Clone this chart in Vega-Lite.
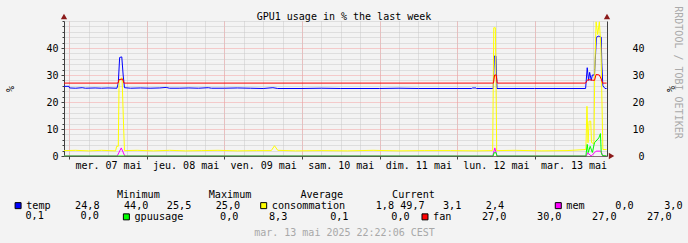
{
  "$schema": "https://vega.github.io/schema/vega-lite/v6.json",
  "width": 543,
  "height": 135,
  "autosize": {"type": "none"},
  "padding": {"left": 64, "top": 21, "right": 81, "bottom": 87},
  "background": "#f3f3f3",
  "config": {
    "view": {"fill": "#ffffff", "stroke": null},
    "font": "DejaVu Sans Mono",
    "axis": {"labelFont": "DejaVu Sans Mono", "labelFontSize": 10, "labelColor": "#000000", "titleFont": "DejaVu Sans Mono", "titleFontSize": 10, "titleFontWeight": "normal", "titleColor": "#000000", "domainColor": "#404040", "tickColor": "#404040"},
    "legend": {"labelFont": "DejaVu Sans Mono", "labelFontSize": 10.17, "labelColor": "#000000", "labelLimit": 1000, "labelOffset": 3, "titleFont": "DejaVu Sans Mono", "titleFontSize": 10.17, "titleFontWeight": "normal", "titleColor": "#000000", "titleLimit": 1000, "symbolType": "square", "symbolSize": 36, "symbolStrokeColor": "#000000", "symbolStrokeWidth": 1, "symbolOpacity": 1, "padding": 0}
  },
  "title": {"text": "GPU1 usage in % the last week", "anchor": "middle", "frame": "group", "font": "DejaVu Sans Mono", "fontSize": 10, "fontWeight": "normal", "color": "#000000", "baseline": "alphabetic", "offset": 2.5, "dx": 8.5, "dy": 26.7},
  "data": {"values": [
    {"t": "2025-05-06T22:22Z", "s": "temp", "v": 25.8},
    {"t": "2025-05-06T23:55Z", "s": "temp", "v": 25.8},
    {"t": "2025-05-07T00:05Z", "s": "temp", "v": 25.2},
    {"t": "2025-05-07T02:00Z", "s": "temp", "v": 25.1},
    {"t": "2025-05-07T04:00Z", "s": "temp", "v": 25.3},
    {"t": "2025-05-07T05:00Z", "s": "temp", "v": 25.1},
    {"t": "2025-05-07T08:00Z", "s": "temp", "v": 25.2},
    {"t": "2025-05-07T10:00Z", "s": "temp", "v": 25.1},
    {"t": "2025-05-07T12:00Z", "s": "temp", "v": 25.2},
    {"t": "2025-05-07T14:45Z", "s": "temp", "v": 25.1},
    {"t": "2025-05-07T15:10Z", "s": "temp", "v": 27.0},
    {"t": "2025-05-07T15:35Z", "s": "temp", "v": 36.5},
    {"t": "2025-05-07T16:15Z", "s": "temp", "v": 36.7},
    {"t": "2025-05-07T16:40Z", "s": "temp", "v": 30.0},
    {"t": "2025-05-07T17:05Z", "s": "temp", "v": 25.3},
    {"t": "2025-05-07T19:00Z", "s": "temp", "v": 25.1},
    {"t": "2025-05-07T22:00Z", "s": "temp", "v": 25.2},
    {"t": "2025-05-08T01:00Z", "s": "temp", "v": 25.1},
    {"t": "2025-05-08T04:00Z", "s": "temp", "v": 25.2},
    {"t": "2025-05-08T06:00Z", "s": "temp", "v": 25.4},
    {"t": "2025-05-08T07:00Z", "s": "temp", "v": 25.1},
    {"t": "2025-05-08T10:00Z", "s": "temp", "v": 25.1},
    {"t": "2025-05-08T13:00Z", "s": "temp", "v": 25.2},
    {"t": "2025-05-08T16:00Z", "s": "temp", "v": 25.1},
    {"t": "2025-05-08T19:00Z", "s": "temp", "v": 25.3},
    {"t": "2025-05-08T20:00Z", "s": "temp", "v": 25.1},
    {"t": "2025-05-09T00:00Z", "s": "temp", "v": 25.1},
    {"t": "2025-05-09T04:00Z", "s": "temp", "v": 25.2},
    {"t": "2025-05-09T08:00Z", "s": "temp", "v": 25.1},
    {"t": "2025-05-09T12:00Z", "s": "temp", "v": 25.0},
    {"t": "2025-05-09T15:00Z", "s": "temp", "v": 25.3},
    {"t": "2025-05-09T16:30Z", "s": "temp", "v": 25.0},
    {"t": "2025-05-10T00:00Z", "s": "temp", "v": 25.0},
    {"t": "2025-05-10T06:00Z", "s": "temp", "v": 25.1},
    {"t": "2025-05-10T12:00Z", "s": "temp", "v": 25.0},
    {"t": "2025-05-11T00:00Z", "s": "temp", "v": 25.0},
    {"t": "2025-05-11T06:00Z", "s": "temp", "v": 25.1},
    {"t": "2025-05-11T12:00Z", "s": "temp", "v": 25.0},
    {"t": "2025-05-12T00:00Z", "s": "temp", "v": 25.0},
    {"t": "2025-05-12T04:30Z", "s": "temp", "v": 25.0},
    {"t": "2025-05-12T04:40Z", "s": "temp", "v": 25.2},
    {"t": "2025-05-12T05:50Z", "s": "temp", "v": 25.2},
    {"t": "2025-05-12T06:00Z", "s": "temp", "v": 25.0},
    {"t": "2025-05-12T11:10Z", "s": "temp", "v": 25.0},
    {"t": "2025-05-12T11:30Z", "s": "temp", "v": 37.0},
    {"t": "2025-05-12T12:00Z", "s": "temp", "v": 37.0},
    {"t": "2025-05-12T12:20Z", "s": "temp", "v": 25.0},
    {"t": "2025-05-13T00:00Z", "s": "temp", "v": 25.0},
    {"t": "2025-05-13T15:45Z", "s": "temp", "v": 25.0},
    {"t": "2025-05-13T16:15Z", "s": "temp", "v": 32.7},
    {"t": "2025-05-13T16:40Z", "s": "temp", "v": 28.0},
    {"t": "2025-05-13T17:00Z", "s": "temp", "v": 31.0},
    {"t": "2025-05-13T17:30Z", "s": "temp", "v": 28.0},
    {"t": "2025-05-13T17:50Z", "s": "temp", "v": 30.0},
    {"t": "2025-05-13T18:30Z", "s": "temp", "v": 30.0},
    {"t": "2025-05-13T18:45Z", "s": "temp", "v": 35.7},
    {"t": "2025-05-13T19:05Z", "s": "temp", "v": 44.0},
    {"t": "2025-05-13T19:50Z", "s": "temp", "v": 44.4},
    {"t": "2025-05-13T20:35Z", "s": "temp", "v": 44.0},
    {"t": "2025-05-13T20:45Z", "s": "temp", "v": 34.5},
    {"t": "2025-05-13T21:05Z", "s": "temp", "v": 26.0},
    {"t": "2025-05-13T21:45Z", "s": "temp", "v": 25.0},
    {"t": "2025-05-13T22:15Z", "s": "temp", "v": 25.0},

    {"t": "2025-05-06T22:22Z", "s": "consommation", "v": 2.0},
    {"t": "2025-05-07T02:00Z", "s": "consommation", "v": 2.1},
    {"t": "2025-05-07T06:00Z", "s": "consommation", "v": 1.9},
    {"t": "2025-05-07T10:00Z", "s": "consommation", "v": 2.1},
    {"t": "2025-05-07T14:20Z", "s": "consommation", "v": 1.9},
    {"t": "2025-05-07T14:40Z", "s": "consommation", "v": 3.6},
    {"t": "2025-05-07T15:10Z", "s": "consommation", "v": 3.6},
    {"t": "2025-05-07T15:25Z", "s": "consommation", "v": 28.0},
    {"t": "2025-05-07T16:20Z", "s": "consommation", "v": 29.0},
    {"t": "2025-05-07T16:50Z", "s": "consommation", "v": 10.0},
    {"t": "2025-05-07T17:05Z", "s": "consommation", "v": 2.0},
    {"t": "2025-05-07T21:00Z", "s": "consommation", "v": 2.1},
    {"t": "2025-05-08T02:00Z", "s": "consommation", "v": 1.9},
    {"t": "2025-05-08T07:00Z", "s": "consommation", "v": 2.1},
    {"t": "2025-05-08T12:00Z", "s": "consommation", "v": 1.9},
    {"t": "2025-05-08T17:00Z", "s": "consommation", "v": 2.0},
    {"t": "2025-05-08T22:00Z", "s": "consommation", "v": 2.1},
    {"t": "2025-05-09T04:00Z", "s": "consommation", "v": 1.9},
    {"t": "2025-05-09T10:00Z", "s": "consommation", "v": 2.0},
    {"t": "2025-05-09T14:30Z", "s": "consommation", "v": 2.0},
    {"t": "2025-05-09T15:30Z", "s": "consommation", "v": 3.8},
    {"t": "2025-05-09T16:30Z", "s": "consommation", "v": 2.1},
    {"t": "2025-05-09T22:00Z", "s": "consommation", "v": 1.9},
    {"t": "2025-05-10T06:00Z", "s": "consommation", "v": 2.0},
    {"t": "2025-05-10T14:00Z", "s": "consommation", "v": 1.9},
    {"t": "2025-05-10T22:00Z", "s": "consommation", "v": 2.1},
    {"t": "2025-05-11T06:00Z", "s": "consommation", "v": 1.9},
    {"t": "2025-05-11T14:00Z", "s": "consommation", "v": 2.0},
    {"t": "2025-05-11T22:00Z", "s": "consommation", "v": 2.0},
    {"t": "2025-05-12T06:00Z", "s": "consommation", "v": 1.9},
    {"t": "2025-05-12T11:00Z", "s": "consommation", "v": 2.0},
    {"t": "2025-05-12T11:20Z", "s": "consommation", "v": 47.5},
    {"t": "2025-05-12T11:50Z", "s": "consommation", "v": 47.5},
    {"t": "2025-05-12T12:15Z", "s": "consommation", "v": 2.0},
    {"t": "2025-05-12T18:00Z", "s": "consommation", "v": 2.1},
    {"t": "2025-05-13T02:00Z", "s": "consommation", "v": 1.9},
    {"t": "2025-05-13T10:00Z", "s": "consommation", "v": 2.0},
    {"t": "2025-05-13T15:50Z", "s": "consommation", "v": 2.4},
    {"t": "2025-05-13T16:10Z", "s": "consommation", "v": 18.4},
    {"t": "2025-05-13T16:30Z", "s": "consommation", "v": 4.9},
    {"t": "2025-05-13T16:50Z", "s": "consommation", "v": 12.9},
    {"t": "2025-05-13T17:20Z", "s": "consommation", "v": 12.9},
    {"t": "2025-05-13T17:35Z", "s": "consommation", "v": 5.0},
    {"t": "2025-05-13T18:20Z", "s": "consommation", "v": 4.5},
    {"t": "2025-05-13T18:35Z", "s": "consommation", "v": 32.0},
    {"t": "2025-05-13T19:00Z", "s": "consommation", "v": 49.7},
    {"t": "2025-05-13T19:30Z", "s": "consommation", "v": 45.0},
    {"t": "2025-05-13T20:00Z", "s": "consommation", "v": 49.7},
    {"t": "2025-05-13T20:30Z", "s": "consommation", "v": 40.0},
    {"t": "2025-05-13T21:05Z", "s": "consommation", "v": 2.4},
    {"t": "2025-05-13T22:15Z", "s": "consommation", "v": 2.4},

    {"t": "2025-05-06T22:22Z", "s": "mem", "v": 0},
    {"t": "2025-05-07T14:50Z", "s": "mem", "v": 0},
    {"t": "2025-05-07T16:05Z", "s": "mem", "v": 3.0},
    {"t": "2025-05-07T17:10Z", "s": "mem", "v": 0},
    {"t": "2025-05-12T11:00Z", "s": "mem", "v": 0},
    {"t": "2025-05-12T11:40Z", "s": "mem", "v": 3.0},
    {"t": "2025-05-12T12:20Z", "s": "mem", "v": 0},
    {"t": "2025-05-13T16:00Z", "s": "mem", "v": 0},
    {"t": "2025-05-13T16:20Z", "s": "mem", "v": 1.2},
    {"t": "2025-05-13T17:30Z", "s": "mem", "v": 0},
    {"t": "2025-05-13T19:00Z", "s": "mem", "v": 1.8},
    {"t": "2025-05-13T20:30Z", "s": "mem", "v": 1.8},
    {"t": "2025-05-13T21:05Z", "s": "mem", "v": 0},
    {"t": "2025-05-13T22:15Z", "s": "mem", "v": 0},

    {"t": "2025-05-06T22:22Z", "s": "gpuusage", "v": 0},
    {"t": "2025-05-12T11:10Z", "s": "gpuusage", "v": 0},
    {"t": "2025-05-12T11:25Z", "s": "gpuusage", "v": 1.2},
    {"t": "2025-05-12T12:05Z", "s": "gpuusage", "v": 1.2},
    {"t": "2025-05-12T12:20Z", "s": "gpuusage", "v": 0},
    {"t": "2025-05-13T15:50Z", "s": "gpuusage", "v": 0},
    {"t": "2025-05-13T16:15Z", "s": "gpuusage", "v": 4.3},
    {"t": "2025-05-13T16:35Z", "s": "gpuusage", "v": 1.3},
    {"t": "2025-05-13T17:10Z", "s": "gpuusage", "v": 3.6},
    {"t": "2025-05-13T17:50Z", "s": "gpuusage", "v": 1.3},
    {"t": "2025-05-13T18:30Z", "s": "gpuusage", "v": 4.9},
    {"t": "2025-05-13T19:50Z", "s": "gpuusage", "v": 6.7},
    {"t": "2025-05-13T20:20Z", "s": "gpuusage", "v": 8.3},
    {"t": "2025-05-13T20:35Z", "s": "gpuusage", "v": 1.3},
    {"t": "2025-05-13T20:55Z", "s": "gpuusage", "v": 0.2},
    {"t": "2025-05-13T22:15Z", "s": "gpuusage", "v": 0},

    {"t": "2025-05-06T22:22Z", "s": "fan", "v": 27},
    {"t": "2025-05-07T15:05Z", "s": "fan", "v": 27},
    {"t": "2025-05-07T15:25Z", "s": "fan", "v": 28.3},
    {"t": "2025-05-07T16:30Z", "s": "fan", "v": 28.5},
    {"t": "2025-05-07T16:55Z", "s": "fan", "v": 27},
    {"t": "2025-05-12T11:15Z", "s": "fan", "v": 27},
    {"t": "2025-05-12T11:35Z", "s": "fan", "v": 30},
    {"t": "2025-05-12T12:05Z", "s": "fan", "v": 30},
    {"t": "2025-05-12T12:25Z", "s": "fan", "v": 27},
    {"t": "2025-05-13T15:45Z", "s": "fan", "v": 27},
    {"t": "2025-05-13T16:25Z", "s": "fan", "v": 28.3},
    {"t": "2025-05-13T18:30Z", "s": "fan", "v": 28.0},
    {"t": "2025-05-13T19:00Z", "s": "fan", "v": 30.2},
    {"t": "2025-05-13T20:00Z", "s": "fan", "v": 30.0},
    {"t": "2025-05-13T20:35Z", "s": "fan", "v": 28.5},
    {"t": "2025-05-13T21:00Z", "s": "fan", "v": 27},
    {"t": "2025-05-13T22:15Z", "s": "fan", "v": 27}
  ]},
  "resolve": {"axis": {"x": "independent", "y": "independent"}},
  "layer": [
    {
      "transform": [{"filter": "datum.s === 'temp'"}],
      "mark": {"type": "line", "strokeWidth": 1, "color": "#0000ff"},
      "encoding": {
        "x": {"field": "t", "type": "temporal",
          "scale": {"type": "utc", "domain": [1746570126000, 1747174926000]},
          "axis": {"orient": "bottom", "values": [1746576000000, 1746597600000, 1746619200000, 1746640800000, 1746662400000, 1746684000000, 1746705600000, 1746727200000, 1746748800000, 1746770400000, 1746792000000, 1746813600000, 1746835200000, 1746856800000, 1746878400000, 1746900000000, 1746921600000, 1746943200000, 1746964800000, 1746986400000, 1747008000000, 1747029600000, 1747051200000, 1747072800000, 1747094400000, 1747116000000, 1747137600000, 1747159200000], "grid": true, "gridColor": "#c8c8c8", "gridDash": [1, 1], "labels": false, "ticks": false, "domain": false, "title": null}},
        "y": {"field": "v", "type": "quantitative",
          "scale": {"domain": [0, 50], "nice": false, "zero": true},
          "axis": {"orient": "left", "values": [2, 4, 6, 8, 12, 14, 16, 18, 22, 24, 26, 28, 32, 34, 36, 38, 42, 44, 46, 48, 50], "grid": true, "gridColor": "#c8c8c8", "gridDash": [1, 1], "labels": false, "ticks": true, "tickSize": 2, "domain": false, "title": null}}
      }
    },
    {
      "transform": [{"filter": "datum.s === 'consommation'"}],
      "mark": {"type": "line", "strokeWidth": 1, "color": "#ffff00"},
      "encoding": {
        "x": {"field": "t", "type": "temporal",
          "scale": {"type": "utc", "domain": [1746570126000, 1747174926000]},
          "axis": {"orient": "bottom", "values": [1746576000000, 1746662400000, 1746748800000, 1746835200000, 1746921600000, 1747008000000, 1747094400000], "grid": true, "gridColor": "#f4a0a0", "gridDash": [1, 1], "labels": false, "ticks": true, "tickSize": 3, "domain": false, "title": null}},
        "y": {"field": "v", "type": "quantitative",
          "scale": {"domain": [0, 50], "nice": false, "zero": true},
          "axis": {"orient": "left", "values": [0, 10, 20, 30, 40], "grid": true, "gridColor": "#f4a0a0", "gridDash": [1, 1], "ticks": true, "tickSize": 3, "domain": true, "labelPadding": 3, "title": "%", "titleAngle": 270, "titleX": -54, "titleY": 67.5, "titleAlign": "center", "titleBaseline": "middle"}}
      }
    },
    {
      "transform": [{"filter": "datum.s === 'mem'"}],
      "mark": {"type": "line", "strokeWidth": 1, "color": "#ff00ff"},
      "encoding": {
        "x": {"field": "t", "type": "temporal",
          "scale": {"type": "utc", "domain": [1746570126000, 1747174926000]},
          "axis": {"orient": "bottom", "values": [1746619200000, 1746705600000, 1746792000000, 1746878400000, 1746964800000, 1747051200000, 1747137600000],
            "grid": false, "ticks": false, "domain": true, "domainColor": "#333333", "domainOpacity": 0.6, "zindex": 1,
            "labelExpr": "(utcday(datum.value) == 0 ? 'dim.' : utcday(datum.value) == 1 ? 'lun.' : utcday(datum.value) == 2 ? 'mar.' : utcday(datum.value) == 3 ? 'mer.' : utcday(datum.value) == 4 ? 'jeu.' : utcday(datum.value) == 5 ? 'ven.' : 'sam.') + ' ' + utcFormat(datum.value, '%d') + ' mai'",
            "labelPadding": 4, "labelFlush": false, "labelOverlap": false,
            "title": "mar. 13 mai 2025 22:22:06 CEST", "titleColor": "#a8a8a8", "titleX": 280, "titleY": 76, "titleAlign": "center", "titleBaseline": "middle", "titleAngle": 0}},
        "y": {"field": "v", "type": "quantitative",
          "scale": {"domain": [0, 50], "nice": false, "zero": true},
          "axis": {"orient": "right", "values": [0, 10, 20, 30, 40], "grid": false, "ticks": false, "domain": true, "labelAlign": "right", "labelPadding": 37, "title": "%", "titleAngle": 90, "titleX": 62, "titleY": 67.5, "titleAlign": "center", "titleBaseline": "middle"}}
      }
    },
    {
      "transform": [{"filter": "datum.s === 'gpuusage'"}],
      "mark": {"type": "line", "strokeWidth": 1, "color": "#00ff00"},
      "encoding": {
        "x": {"field": "t", "type": "temporal", "scale": {"type": "utc", "domain": [1746570126000, 1747174926000]}, "axis": null},
        "y": {"field": "v", "type": "quantitative",
          "scale": {"domain": [0, 50], "nice": false, "zero": true},
          "axis": {"orient": "right", "labels": false, "ticks": false, "domain": false, "grid": false, "title": "RRDTOOL / TOBI OETIKER", "titleColor": "#aaaaaa", "titleAngle": 90, "titleX": 70, "titleY": 51, "titleAlign": "center", "titleBaseline": "middle"}}
      }
    },
    {
      "transform": [{"filter": "datum.s === 'fan'"}],
      "mark": {"type": "line", "strokeWidth": 1, "color": "#ff0000"},
      "encoding": {
        "x": {"field": "t", "type": "temporal", "scale": {"type": "utc", "domain": [1746570126000, 1747174926000]}, "axis": null},
        "y": {"field": "v", "type": "quantitative", "scale": {"domain": [0, 50], "nice": false, "zero": true}, "axis": null}
      }
    },
    {
      "data": {"values": [{}]},
      "mark": {"type": "point", "shape": "triangle-up", "filled": true, "size": 40, "color": "#8b1a1a", "opacity": 1},
      "encoding": {
        "x": {"datum": 1746570126000, "type": "temporal", "axis": null},
        "y": {"datum": 51.7, "type": "quantitative", "axis": null}
      }
    },
    {
      "data": {"values": [{}]},
      "mark": {"type": "point", "shape": "triangle-up", "filled": true, "size": 40, "color": "#8b1a1a", "opacity": 1},
      "encoding": {
        "x": {"datum": 1747174926000, "type": "temporal", "axis": null},
        "y": {"datum": 51.7, "type": "quantitative", "axis": null}
      }
    },
    {
      "data": {"values": [{}]},
      "mark": {"type": "point", "shape": "triangle-right", "filled": true, "size": 40, "color": "#8b1a1a", "opacity": 1},
      "encoding": {
        "x": {"datum": 1747179966000, "type": "temporal", "axis": null},
        "y": {"datum": 0, "type": "quantitative", "axis": null}
      }
    },
    {
      "data": {"values": []},
      "mark": {"type": "square", "opacity": 1},
      "encoding": {
        "fill": {"field": "s", "type": "nominal",
          "scale": {"domain": ["temp", "consommation", "mem"], "range": ["#0000ff", "#ffff00", "#ff00ff"]},
          "legend": {
            "orient": "none", "legendX": -51, "legendY": 169,
            "direction": "horizontal", "columnPadding": 5.6,
            "title": "\u200b\u00a0\u00a0\u00a0\u00a0\u00a0\u00a0\u00a0\u00a0\u00a0\u00a0\u00a0\u00a0\u00a0\u00a0\u00a0\u00a0\u00a0Minimum\u00a0\u00a0\u00a0\u00a0\u00a0\u00a0\u00a0\u00a0Maximum\u00a0\u00a0\u00a0\u00a0\u00a0\u00a0\u00a0\u00a0Average\u00a0\u00a0\u00a0\u00a0\u00a0\u00a0\u00a0\u00a0Current",
            "titlePadding": 0,
            "labelExpr": "datum.value === 'temp' ? 'temp\u00a0\u00a0\u00a0\u00a024,8\u00a0\u00a0\u00a0\u00a044,0\u00a0\u00a0\u00a025,5\u00a0\u00a0\u00a0\u00a025,0\u00a0\u00a0\u200b' : datum.value === 'consommation' ? 'consommation\u00a0\u00a0\u00a0\u00a0\u00a01,8\u00a049,7\u00a0\u00a0\u00a03,1\u00a0\u00a0\u00a0\u00a02,4\u00a0\u00a0\u00a0\u00a0\u00a0\u00a0\u00a0\u200b' : 'mem\u00a0\u00a0\u00a0\u00a0\u00a00,0\u00a0\u00a0\u00a0\u00a0\u00a03,0'"
          }}
      }
    },
    {
      "data": {"values": []},
      "mark": {"type": "square", "opacity": 1},
      "encoding": {
        "color": {"field": "s", "type": "nominal",
          "scale": {"domain": ["gpuusage", "fan"], "range": ["#00ff00", "#ff0000"]},
          "legend": {
            "orient": "none", "legendX": -38.5, "legendY": 190.4,
            "direction": "horizontal", "columnPadding": 9.6,
            "title": "0,1\u00a0\u00a0\u00a0\u00a0\u00a0\u00a00,0",
            "titleOrient": "left", "titleAnchor": "start", "titleBaseline": "top", "titleAngle": 0, "titlePadding": 21.8,
            "labelExpr": "datum.value === 'gpuusage' ? 'gpuusage\u00a0\u00a0\u00a0\u00a0\u00a0\u00a00,0\u00a0\u00a0\u00a0\u00a0\u00a08,3\u00a0\u00a0\u00a0\u00a0\u00a0\u00a0\u00a00,1\u00a0\u00a0\u00a0\u00a0\u00a0\u00a0\u00a00,0' : 'fan\u00a0\u00a0\u00a0\u00a0\u00a027,0\u00a0\u00a0\u00a0\u00a0\u00a030,0\u00a0\u00a0\u00a0\u00a0\u00a027,0\u00a0\u00a0\u00a0\u00a0\u00a027,0'"
          }}
      }
    }
  ]
}
